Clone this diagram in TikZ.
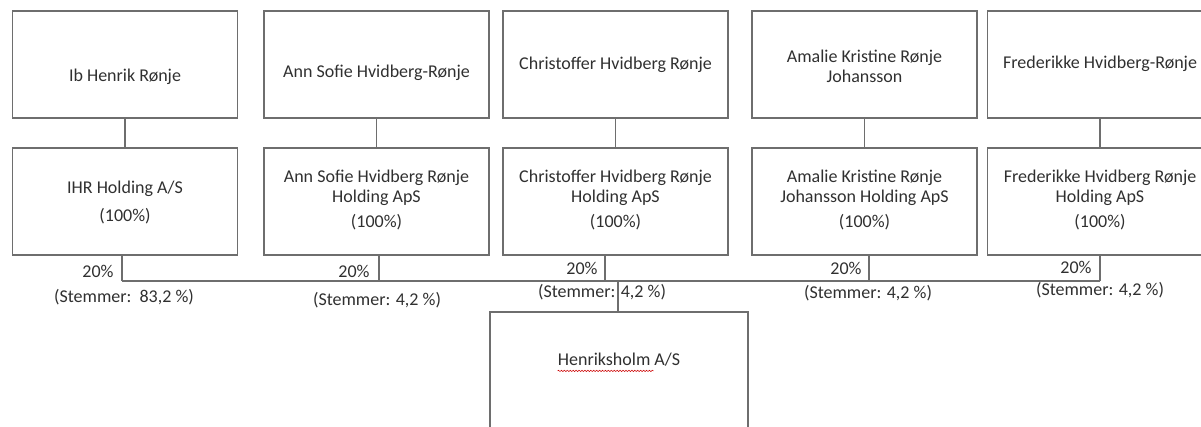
\documentclass[tikz,border=0pt]{standalone}
\usepackage{fontspec}
\setmainfont{Carlito}
\usetikzlibrary{decorations.pathmorphing}
\definecolor{boxline}{HTML}{6E6E6E}
\definecolor{boxtext}{HTML}{303030}
\tikzstyle{box} = [draw=boxline, line width=1.1pt, minimum width=168.75pt, minimum height=80.25pt, inner sep=0pt]
\tikzstyle{txt} = [text=boxtext, align=center, inner sep=0pt, font=\fontsize{13.5}{15}\selectfont]
\tikzstyle{link} = [draw=boxline, line width=1.1pt]

\begin{document}
\begin{tikzpicture}[x=0.75pt,y=-0.75pt]
  \useasboundingbox (0,0) rectangle (1201,427);
  \clip (0,0) rectangle (1201,427);
  % owners
  \node (t1) at (125,64.5) [box] {};
  \node (t2) at (376.5,64.5) [box] {};
  \node (t3) at (615.5,64.5) [box] {};
  \node (t4) at (864.5,64.5) [box] {};
  \node (t5) at (1100,64.5) [box] {};
  \node (t1x) at (125,77) [txt] {Ib Henrik Rønje};
  \node (t2x) at (376.5,73) [txt] {Ann Sofie Hvidberg-Rønje};
  \node (t3x) at (615.5,65) [txt] {Christoffer Hvidberg Rønje};
  \node (t4x) at (864.5,66) [txt] {Amalie Kristine Rønje\\Johansson};
  \node (t5x) at (1100,64) [txt] {Frederikke Hvidberg-Rønje};
  % holding companies
  \node (b1) at (125,201.5) [box] {};
  \node (b2) at (376.5,201.5) [box] {};
  \node (b3) at (615.5,201.5) [box] {};
  \node (b4) at (864.5,201.5) [box] {};
  \node (b5) at (1100,201.5) [box] {};
  \node (b1x) at (125,203) [txt] {IHR Holding A/S\\[6pt](100\%)};
  \node (b2x) at (376.5,200) [txt] {Ann Sofie Hvidberg Rønje\\Holding ApS\\[3.75pt](100\%)};
  \node (b3x) at (615.5,200) [txt] {Christoffer Hvidberg Rønje\\Holding ApS\\[3.75pt](100\%)};
  \node (b4x) at (864.5,200) [txt] {Amalie Kristine Rønje\\Johansson Holding ApS\\[3.75pt](100\%)};
  \node (b5x) at (1100,200) [txt] {Frederikke Hvidberg Rønje\\Holding ApS\\[3.75pt](100\%)};
  % Henriksholm
  \node (hh) at (619,376) [box, minimum width=193.5pt, minimum height=96pt] {};
  \node (hhx) at (619,360) [txt] {Henriksholm A/S};
  \draw [red!80!black, line width=0.4pt, decorate, decoration={snake, amplitude=0.5pt, segment length=2.2pt}]
    (hhx.south west) ++(0,4) -- ++(96,0);
  \draw [link] (t1) -- (b1);
  \draw [link] (t2) -- (b2);
  \draw [link] (t3) -- (b3);
  \draw [link] (t4) -- (b4);
  \draw [link] (t5) -- (b5);
  % 20% lines
  \coordinate (j1) at (122,281);
  \coordinate (j2) at (379,281);
  \coordinate (j3) at (605,281);
  \coordinate (j4) at (869,281);
  \coordinate (j5) at (1100,281);
  \coordinate (j0) at (618,281);
  \draw [link] (b1.south -| j1) -- (j1);
  \draw [link] (b2.south -| j2) -- (j2);
  \draw [link] (b3.south -| j3) -- (j3);
  \draw [link] (b4.south -| j4) -- (j4);
  \draw [link] (b5.south -| j5) -- (j5);
  \draw [link] (j1) -- (j5);
  \draw [link] (j0) -- (hh.north -| j0);
  \node (p1) at (98,271) [txt] {20\%};
  \node (p2) at (354,271) [txt] {20\%};
  \node (p3) at (582,268) [txt] {20\%};
  \node (p4) at (846,268) [txt] {20\%};
  \node (p5) at (1076,267) [txt] {20\%};
  \node (s1) at (124,297) [txt] {(Stemmer:\ \ 83,2 \%)};
  \node (s2) at (377,300) [txt] {(Stemmer: 4,2 \%)};
  \node (s3) at (602,292) [txt] {(Stemmer: 4,2 \%)};
  \node (s4) at (868,293) [txt] {(Stemmer: 4,2 \%)};
  \node (s5) at (1100,290) [txt] {(Stemmer: 4,2 \%)};
\end{tikzpicture}
\end{document}
